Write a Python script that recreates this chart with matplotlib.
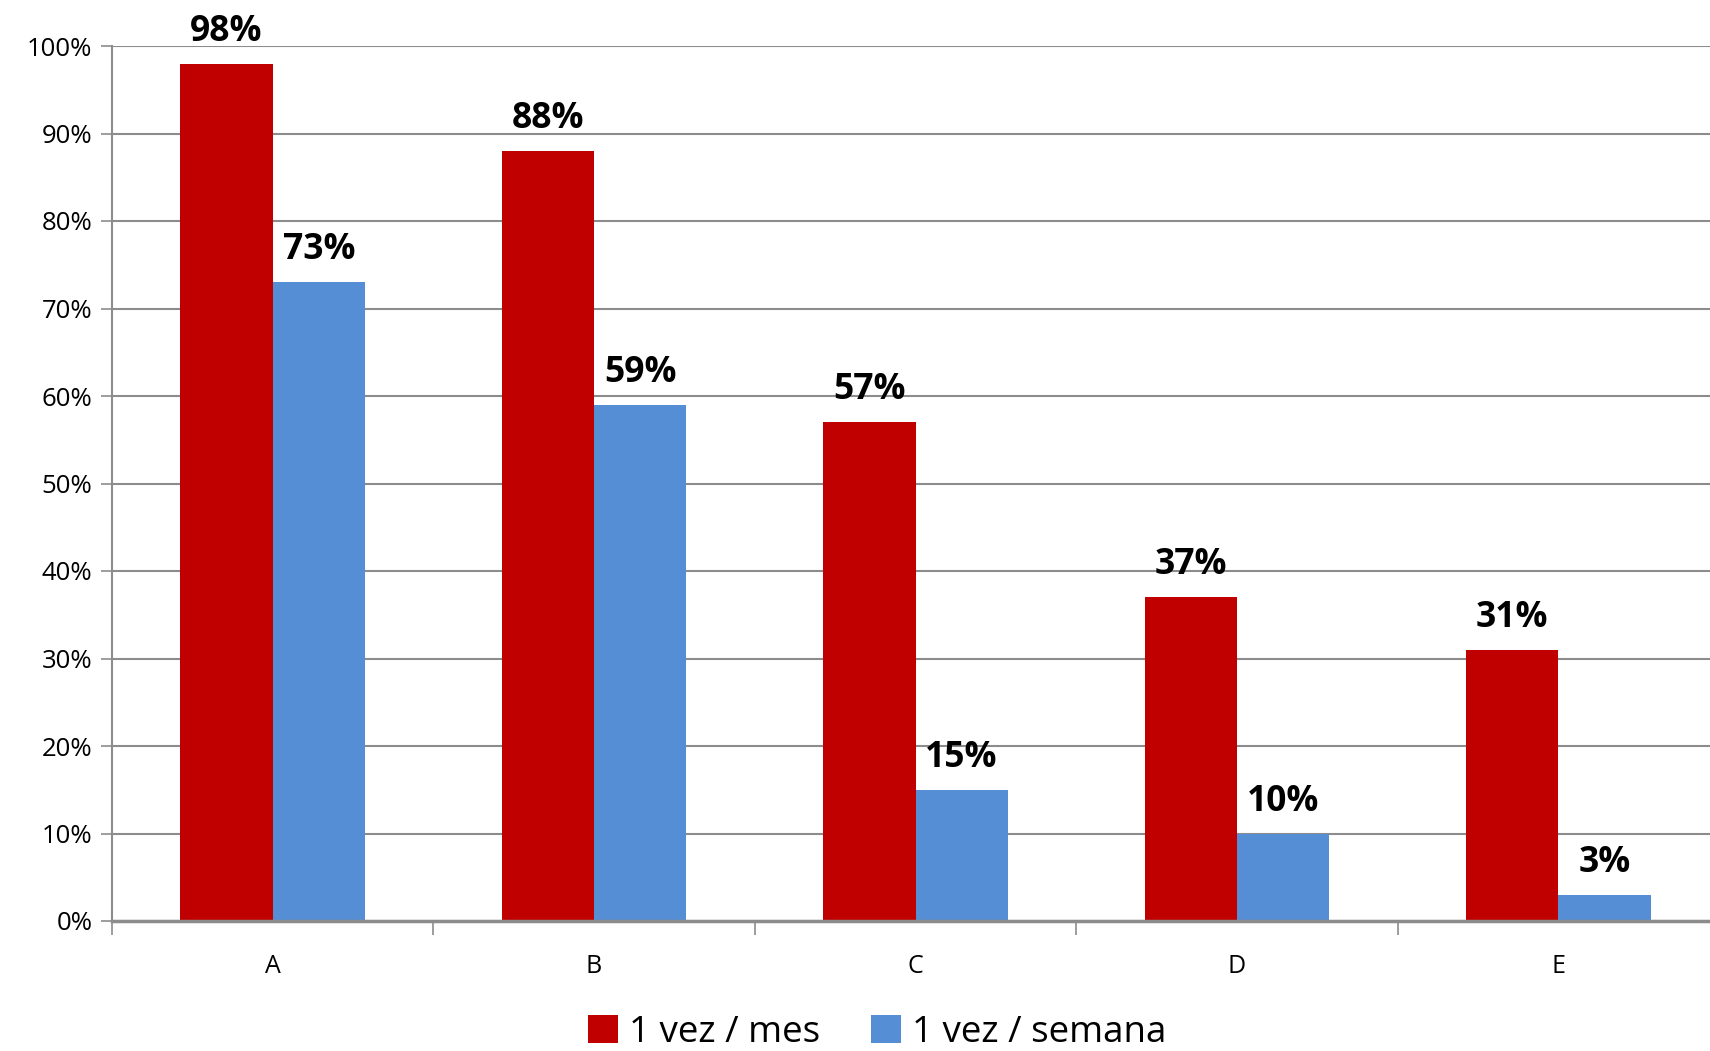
import matplotlib.pyplot as plt
import numpy as np
from matplotlib.ticker import PercentFormatter

plt.rcParams['font.family'] = ['Open Sans', 'DejaVu Sans']

categories = ['A', 'B', 'C', 'D', 'E']
mes = [98, 88, 57, 37, 31]
semana = [73, 59, 15, 10, 3]
series_names = ['1 vez / mes', '1 vez / semana']

red = '#C00000'
blue = '#558ED5'
grid_col = '#8c8c8c'

fig = plt.figure(figsize=(17.1, 10.51), dpi=100)
ax = fig.add_axes([112 / 1710, 1 - 921 / 1051, (1719 - 112) / 1710, (921 - 46) / 1051])

x = np.arange(len(categories))
w = 0.287
b1 = ax.bar(x - w / 2, mes, w, color=red, label=series_names[0])
b2 = ax.bar(x + w / 2, semana, w, color=blue, label=series_names[1])

for bars in (b1, b2):
    for rect in bars:
        h = rect.get_height()
        ax.annotate(f'{h:.0f}%', (rect.get_x() + rect.get_width() / 2, h),
                    xytext=(0, 10), textcoords='offset points',
                    ha='center', va='bottom', fontsize=25.5, fontweight='bold')

ax.set_xlim(-0.5, len(categories) - 0.5)
ax.set_ylim(0, 100)
ax.set_yticks(range(0, 101, 10))
ax.yaxis.set_major_formatter(PercentFormatter(decimals=0))
ax.grid(axis='y', color=grid_col, linewidth=1.5)
ax.set_axisbelow(True)

# category boundaries get the ticks, labels sit in the middle
ax.set_xticks(np.arange(-0.5, len(categories), 1), minor=False)
ax.set_xticklabels([])
ax.set_xticks(x, minor=True)
ax.set_xticklabels(categories, minor=True)
ax.tick_params(axis='x', which='major', length=10, color=grid_col, width=1.2)
ax.tick_params(axis='x', which='minor', length=0, pad=24, labelsize=18)
ax.tick_params(axis='y', length=8, color=grid_col, width=1.2, labelsize=18.5, pad=6)

for s in ['top', 'right']:
    ax.spines[s].set_visible(False)
ax.spines['left'].set_color(grid_col)
ax.spines['left'].set_linewidth(1.5)
ax.spines['bottom'].set_color(grid_col)
ax.spines['bottom'].set_linewidth(2.5)

fig.legend(loc='center', bbox_to_anchor=(0.513, 1 - 1033 / 1051), ncol=2,
           frameon=False, fontsize=26.5, handlelength=0.8, handleheight=0.8,
           handletextpad=0.3, columnspacing=1.4)

fig.savefig('out.png', dpi=100)
